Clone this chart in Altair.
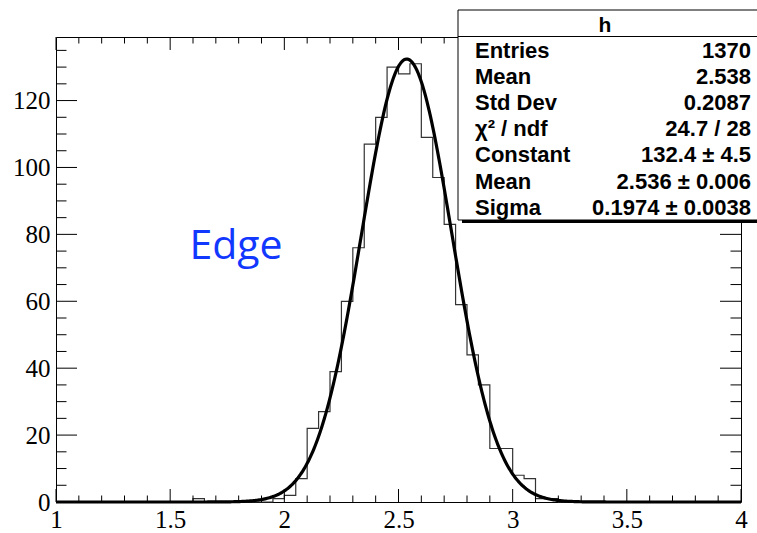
import altair as alt
import pandas as pd

# ---------------- data ----------------
x_min, x_max, n_bins = 1.0, 4.0, 60
counts = ([0] * 12 + [1] + [0] * 6 +
          [1, 2, 7, 22, 27, 39, 60, 76, 107, 115, 130, 128, 131, 109, 97, 83,
           59, 44, 35, 16, 16, 8, 7, 1, 1] + [0] * 16)

fit_const, fit_mean, fit_sigma = 132.4, 2.536, 0.1974

stats_title = "h"
stats_labels = ["Entries", "Mean", "Std Dev", "χ² / ndf", "Constant", "Mean", "Sigma"]
stats_values = ["1370", "2.538", "0.2087", "24.7 / 28", "132.4 ± 4.5",
                "2.536 ± 0.006", "0.1974 ± 0.0038"]

x_major = [1, 1.5, 2, 2.5, 3, 3.5, 4]
x_minor = [round(1 + 0.1 * i, 2) for i in range(31) if (i % 5) != 0]
y_major = [0, 20, 40, 60, 80, 100, 120]
y_minor = [v for v in range(0, 140, 5) if v % 20 != 0]
y_top = 139.0

# ---------------- layout ----------------
W, H = 685, 465
bw = (x_max - x_min) / n_bins
edges = [round(x_min + bw * i, 4) for i in range(n_bins + 1)]
hist_df = pd.DataFrame({"x": edges, "count": counts + [counts[-1]]})

xscale = alt.Scale(domain=[x_min, x_max], nice=False, zero=False)
yscale = alt.Scale(domain=[0, y_top], nice=False, zero=True)

axis_common = dict(ticks=False, domain=False, grid=False, title=None,
                   labelFont="Liberation Serif", labelFontSize=25,
                   labelColor="black", labelFlush=False)
XAX = alt.Axis(values=x_major, format="~g", labelPadding=5, **axis_common)
YAX = alt.Axis(values=y_major, format="d", labelPadding=6, **axis_common)


def X(field):
    return alt.X(field, scale=xscale, axis=XAX)


def Y(field):
    return alt.Y(field, scale=yscale, axis=YAX)


hist = alt.Chart(hist_df).mark_line(
    interpolate="step-after", color="#333333", strokeWidth=1.2
).encode(x=X("x:Q"), y=Y("count:Q"))

curve = alt.Chart(alt.sequence(x_min, x_max + 0.0025, 0.005, as_="x")).transform_calculate(
    g=f"{fit_const}*exp(-0.5*pow((datum.x-{fit_mean})/{fit_sigma},2))"
).mark_line(color="black", strokeWidth=3.2).encode(x=X("x:Q"), y=Y("g:Q"))


def xticks(vals, length):
    df = pd.DataFrame({"v": vals})
    bottom = alt.Chart(df).mark_rule(color="black", strokeWidth=1).encode(
        x=X("v:Q"), y=alt.value(H), y2=alt.value(H - length))
    top = alt.Chart(df).mark_rule(color="black", strokeWidth=1).encode(
        x=X("v:Q"), y=alt.value(0), y2=alt.value(length))
    return [bottom, top]


def yticks(vals, length):
    df = pd.DataFrame({"v": vals})
    left = alt.Chart(df).mark_rule(color="black", strokeWidth=1).encode(
        y=Y("v:Q"), x=alt.value(0), x2=alt.value(length))
    right = alt.Chart(df).mark_rule(color="black", strokeWidth=1).encode(
        y=Y("v:Q"), x=alt.value(W), x2=alt.value(W - length))
    return [left, right]


tick_layers = xticks(x_major, 13) + xticks(x_minor, 6.5) + yticks(y_major, 21) + yticks(y_minor, 10.5)

one = pd.DataFrame({"a": [0]})
box_x0, box_x1, box_y0, box_y1 = 402, 708, -27, 183
shadow = alt.Chart(one).mark_rect(color="black").encode(
    x=alt.value(box_x0 + 4), x2=alt.value(box_x1 + 4),
    y=alt.value(box_y0 + 3), y2=alt.value(box_y1 + 3))
box = alt.Chart(one).mark_rect(fill="white", stroke="black", strokeWidth=1).encode(
    x=alt.value(box_x0), x2=alt.value(box_x1),
    y=alt.value(box_y0), y2=alt.value(box_y1))
sep = alt.Chart(one).mark_rule(color="black", strokeWidth=1).encode(
    x=alt.value(box_x0), x2=alt.value(box_x1), y=alt.value(-0.5))
title_txt = alt.Chart(one).mark_text(
    text=stats_title, font="Liberation Sans", fontWeight="bold", fontSize=21,
    baseline="middle", align="center", color="black"
).encode(x=alt.value(549), y=alt.value(-11))

stats_df = pd.DataFrame({"label": stats_labels, "value": stats_values,
                         "row": list(range(len(stats_labels)))})
lab_txt = alt.Chart(stats_df).transform_calculate(py="13.5 + 26.2*datum.row").mark_text(
    font="Liberation Sans", fontWeight="bold", fontSize=22, align="left",
    baseline="middle", color="black"
).encode(x=alt.value(419), y=alt.Y("py:Q", scale=None), text="label:N")
val_txt = alt.Chart(stats_df).transform_calculate(py="13.5 + 26.2*datum.row").mark_text(
    font="Liberation Sans", fontWeight="bold", fontSize=22, align="right",
    baseline="middle", color="black"
).encode(x=alt.value(695), y=alt.Y("py:Q", scale=None), text="value:N")

edge_txt = alt.Chart(one).mark_text(
    text="Edge", font="Open Sans", fontSize=41, color="#1238ff",
    align="center", baseline="middle"
).encode(x=alt.value(180), y=alt.value(210))

chart = alt.layer(
    hist, curve, *tick_layers, edge_txt, shadow, box, sep, title_txt, lab_txt, val_txt
).properties(
    width=W, height=H,
    padding={"left": 56, "top": 37, "right": 16, "bottom": 31},
    autosize=alt.AutoSizeParams(type="none"),
    background="white",
).configure_view(stroke="black", strokeWidth=1)

chart.save("out.html", embed_options={"renderer": "svg", "actions": False})
